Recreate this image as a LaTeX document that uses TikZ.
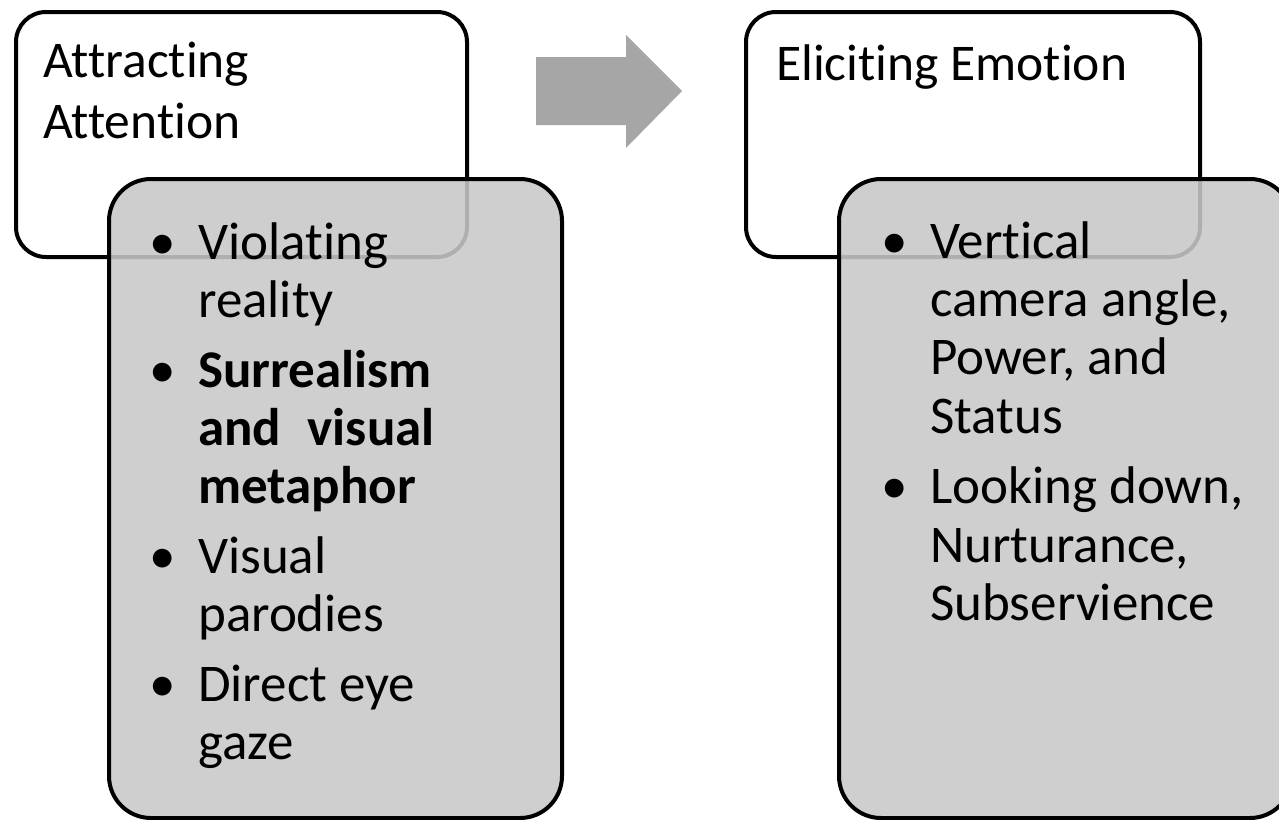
\documentclass[tikz,border=0pt]{standalone}
\usepackage{fontspec}
\setmainfont{Carlito}[Ligatures=NoCommon]
\definecolor{boxgray}{RGB}{200,200,200}
\definecolor{arrowgray}{RGB}{166,166,166}
\tikzset{
  whitebox/.style={draw=black, line width=4pt, fill=white, rounded corners=30pt, anchor=north west, inner sep=0pt},
  graybox/.style={draw=black, line width=4pt, fill=boxgray, fill opacity=0.88, rounded corners=42pt, anchor=north west, inner sep=0pt},
  title/.style={anchor=base west, inner sep=0pt, font=\fontsize{51.5}{60}\selectfont},
  itemtxt/.style={anchor=base west, inner sep=0pt, font=\fontsize{53}{58}\selectfont},
  bul/.style={anchor=base west, inner sep=0pt, font=\fontsize{53}{58}\selectfont},
}
\begin{document}
\begin{tikzpicture}[x=1pt,y=-1pt]
\useasboundingbox (0,0) rectangle (1279,819);
\clip (0,0) rectangle (1279,819);
% white boxes
\node[whitebox, minimum width=451pt, minimum height=245pt] (w1) at (14,10) {};
\node[whitebox, minimum width=454pt, minimum height=245pt] (w2) at (744,10) {};
% gray boxes
\node[graybox, minimum width=453pt, minimum height=639pt] (g1) at (107,177) {};
\node[graybox, minimum width=453pt, minimum height=639pt] (g2) at (837,177) {};
% arrow
\fill[arrowgray] (536,57) -- (626,57) -- (626,35) -- (682,91) -- (626,148) -- (626,125) -- (536,125) -- cycle;
% titles
\node[title] (t1a) at (43,77) {Attracting};
\node[title] (t1b) at (43,138) {Attention};
\node[title] (t2a) at (776,80) {Eliciting Emotion};
% left bullets
\node[bul] (lb1) at (149,259) {•};
\node[bul] (lb2) at (149,387) {•};
\node[bul] (lb3) at (149,573) {•};
\node[bul] (lb4) at (149,701) {•};
\node[itemtxt] (l1) at (198,259) {Violating};
\node[itemtxt] (l2) at (198,317) {reality};
\node[itemtxt] (l3) at (198,387) {\bfseries Surrealism};
\node[itemtxt] (l4) at (198,445) {\bfseries and\hspace{0.5em}visual};
\node[itemtxt] (l5) at (198,503) {\bfseries metaphor};
\node[itemtxt] (l6) at (198,573) {Visual};
\node[itemtxt] (l7) at (198,631) {parodies};
\node[itemtxt] (l8) at (198,701) {Direct eye};
\node[itemtxt] (l9) at (198,759) {gaze};
% right bullets
\node[bul] (rb1) at (881,258) {•};
\node[bul] (rb2) at (881,503) {•};
\node[itemtxt] (r1) at (930,258) {Vertical};
\node[itemtxt] (r2) at (930,316) {camera angle,};
\node[itemtxt] (r3) at (930,374) {Power, and};
\node[itemtxt] (r4) at (930,433) {Status};
\node[itemtxt] (r5) at (930,503) {Looking down,};
\node[itemtxt] (r6) at (930,562) {Nurturance,};
\node[itemtxt] (r7) at (930,620) {Subservience};
\end{tikzpicture}
\end{document}
